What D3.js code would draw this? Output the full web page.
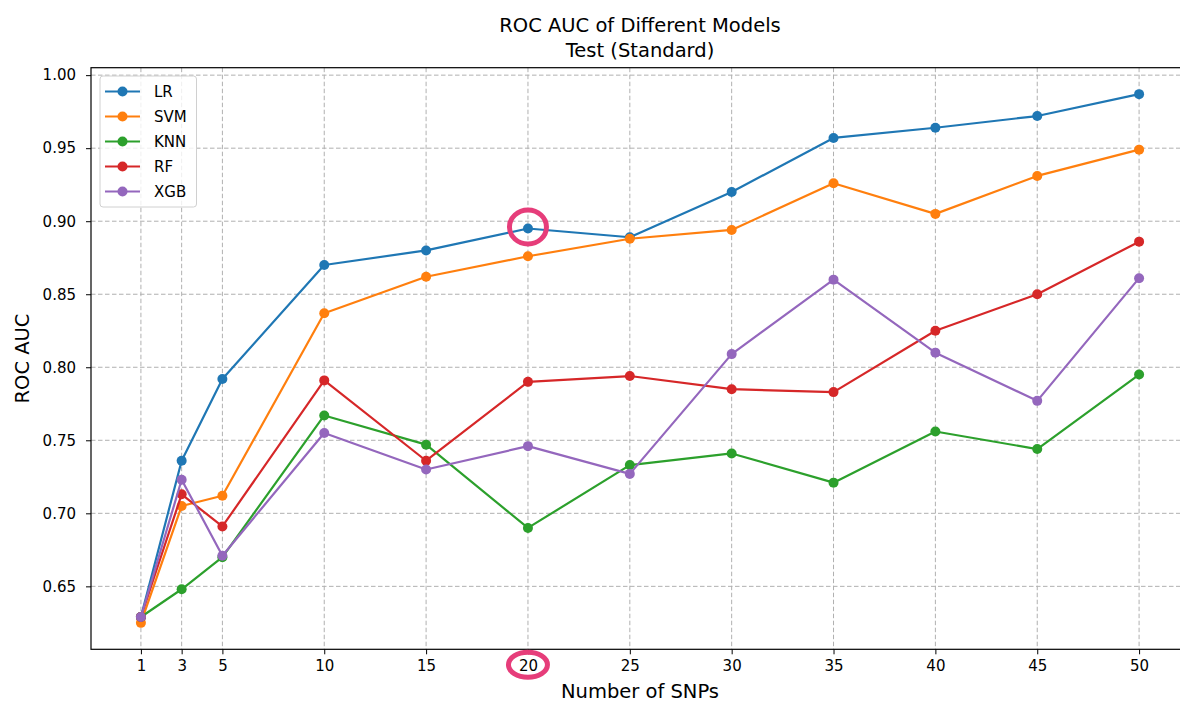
<!DOCTYPE html>
<html>
<head>
<meta charset="utf-8">
<script src="https://cdn.jsdelivr.net/npm/d3@7"></script>
<style>
  body { margin: 0; background: #fff; }
  text { font-family: 'DejaVu Sans', sans-serif; }
</style>
</head>
<body>
<div id="chart"></div>
<script>
// number of SNPs on the x axis
const snps = [1, 3, 5, 10, 15, 20, 25, 30, 35, 40, 45, 50];

const lrAuc = [0.629, 0.736, 0.792, 0.870, 0.880, 0.895, 0.889, 0.920, 0.957, 0.964, 0.972, 0.987];
const svmAuc = [0.625, 0.705, 0.712, 0.837, 0.862, 0.876, 0.888, 0.894, 0.926, 0.905, 0.931, 0.949];
const knnAuc = [0.629, 0.648, 0.670, 0.767, 0.747, 0.690, 0.733, 0.741, 0.721, 0.756, 0.744, 0.795];
const rfAuc = [0.629, 0.713, 0.691, 0.791, 0.736, 0.790, 0.794, 0.785, 0.783, 0.825, 0.850, 0.886];
const xgbAuc = [0.629, 0.723, 0.671, 0.755, 0.730, 0.746, 0.727, 0.809, 0.860, 0.810, 0.777, 0.861];

const modelNames = ['LR', 'SVM', 'KNN', 'RF', 'XGB'];
const modelColors = ['#1f77b4', '#ff7f0e', '#2ca02c', '#d62728', '#9467bd'];
const yTicks = [0.65, 0.70, 0.75, 0.80, 0.85, 0.90, 0.95, 1.00];

// highlighted point: LR at 20 SNPs
const highlightSnp = 20;

const series = [lrAuc, svmAuc, knnAuc, rfAuc, xgbAuc].map((values, i) => ({
  name: modelNames[i],
  color: modelColors[i],
  data: values.map((v, j) => [snps[j], v]),
}));

const width = 1180;
const height = 702;
const margin = { top: 67.7, left: 91, plotRight: 1189, bottom: 649.3 };
const tickFont = '15px';
const labelFont = '19.5px';

// matplotlib style 5% padding
const xMin = d3.min(snps);
const xMax = d3.max(snps);
const xPad = (xMax - xMin) * 0.05;
const allY = series.flatMap(s => s.data.map(d => d[1]));
const yMin = d3.min(allY);
const yMax = d3.max(allY);
const yPad = (yMax - yMin) * 0.05;

const x = d3.scaleLinear()
  .domain([xMin - xPad, xMax + xPad])
  .range([margin.left, margin.plotRight]);

const y = d3.scaleLinear()
  .domain([yMin - yPad, yMax + yPad])
  .range([margin.bottom, margin.top]);

const svg = d3.select('#chart')
  .append('svg')
  .attr('width', width)
  .attr('height', height);

// grid
const grid = svg.append('g')
  .attr('stroke', '#b0b0b0')
  .attr('stroke-width', 1)
  .attr('stroke-dasharray', '4.5,2.5');

grid.selectAll('.vgrid')
  .data(snps)
  .enter()
  .append('line')
  .attr('x1', d => x(d))
  .attr('x2', d => x(d))
  .attr('y1', margin.top)
  .attr('y2', margin.bottom);

grid.selectAll('.hgrid')
  .data(yTicks)
  .enter()
  .append('line')
  .attr('x1', margin.left)
  .attr('x2', margin.plotRight)
  .attr('y1', d => y(d))
  .attr('y2', d => y(d));

// axes
svg.append('g')
  .attr('transform', `translate(0, ${margin.bottom})`)
  .call(d3.axisBottom(x)
    .tickValues(snps)
    .tickSize(5)
    .tickPadding(6)
    .tickFormat(d3.format('d')))
  .call(g => g.select('.domain').remove())
  .call(g => g.selectAll('text').attr('font-size', tickFont).attr('fill', '#000'));

svg.append('g')
  .attr('transform', `translate(${margin.left}, 0)`)
  .call(d3.axisLeft(y)
    .tickValues(yTicks)
    .tickSize(5)
    .tickPadding(10)
    .tickFormat(d3.format('.2f')))
  .call(g => g.select('.domain').remove())
  .call(g => g.selectAll('text').attr('font-size', tickFont).attr('fill', '#000'));

// frame
svg.append('rect')
  .attr('x', margin.left)
  .attr('y', margin.top)
  .attr('width', margin.plotRight - margin.left)
  .attr('height', margin.bottom - margin.top)
  .attr('fill', 'none')
  .attr('stroke', '#000')
  .attr('stroke-width', 1.2);

// lines and markers
const line = d3.line()
  .x(d => x(d[0]))
  .y(d => y(d[1]));

series.forEach((s) => {
  svg.append('path')
    .datum(s.data)
    .attr('fill', 'none')
    .attr('stroke', s.color)
    .attr('stroke-width', 2.2)
    .attr('stroke-linejoin', 'round')
    .attr('d', line);

  svg.append('g')
    .selectAll('circle')
    .data(s.data)
    .enter()
    .append('circle')
    .attr('r', 5)
    .attr('fill', s.color)
    .attr('cx', d => x(d[0]))
    .attr('cy', d => y(d[1]));
});

// legend
const legend = svg.append('g')
  .attr('transform', 'translate(100, 76)');

legend.append('rect')
  .attr('width', 96.5)
  .attr('height', 131)
  .attr('rx', 3)
  .attr('fill', '#fff')
  .attr('fill-opacity', 0.8)
  .attr('stroke', '#d0d0d0')
  .attr('stroke-width', 1);

const items = legend.selectAll('.item')
  .data(series)
  .enter()
  .append('g')
  .attr('transform', (d, i) => `translate(0, ${15.5 + i * 25})`);

items.append('line')
  .attr('x1', 5)
  .attr('x2', 40)
  .attr('stroke', d => d.color)
  .attr('stroke-width', 2.2);

items.append('circle')
  .attr('cx', 22.5)
  .attr('r', 5)
  .attr('fill', d => d.color);

items.append('text')
  .attr('x', 54)
  .attr('dy', '0.36em')
  .attr('font-size', tickFont)
  .attr('fill', '#000')
  .text(d => d.name);

// titles
const midX = (margin.left + margin.plotRight) / 2;

svg.append('text')
  .attr('x', midX)
  .attr('y', 31.5)
  .attr('text-anchor', 'middle')
  .attr('font-size', labelFont)
  .text('ROC AUC of Different Models');

svg.append('text')
  .attr('x', midX)
  .attr('y', 56.5)
  .attr('text-anchor', 'middle')
  .attr('font-size', labelFont)
  .text('Test (Standard)');

svg.append('text')
  .attr('x', midX)
  .attr('y', 698)
  .attr('text-anchor', 'middle')
  .attr('font-size', labelFont)
  .text('Number of SNPs');

svg.append('text')
  .attr('transform', `translate(29, ${(margin.top + margin.bottom) / 2}) rotate(-90)`)
  .attr('text-anchor', 'middle')
  .attr('font-size', labelFont)
  .text('ROC AUC');

// pink highlight rings
const hi = snps.indexOf(highlightSnp);

svg.append('ellipse')
  .attr('cx', x(highlightSnp))
  .attr('cy', y(lrAuc[hi]) - 1.5)
  .attr('rx', 18.5)
  .attr('ry', 17)
  .attr('fill', 'none')
  .attr('stroke', '#e63d7a')
  .attr('stroke-width', 5);

svg.append('ellipse')
  .attr('cx', x(highlightSnp))
  .attr('cy', margin.bottom + 15.5)
  .attr('rx', 19.5)
  .attr('ry', 12.5)
  .attr('fill', 'none')
  .attr('stroke', '#e63d7a')
  .attr('stroke-width', 5);
</script>
</body>
</html>
